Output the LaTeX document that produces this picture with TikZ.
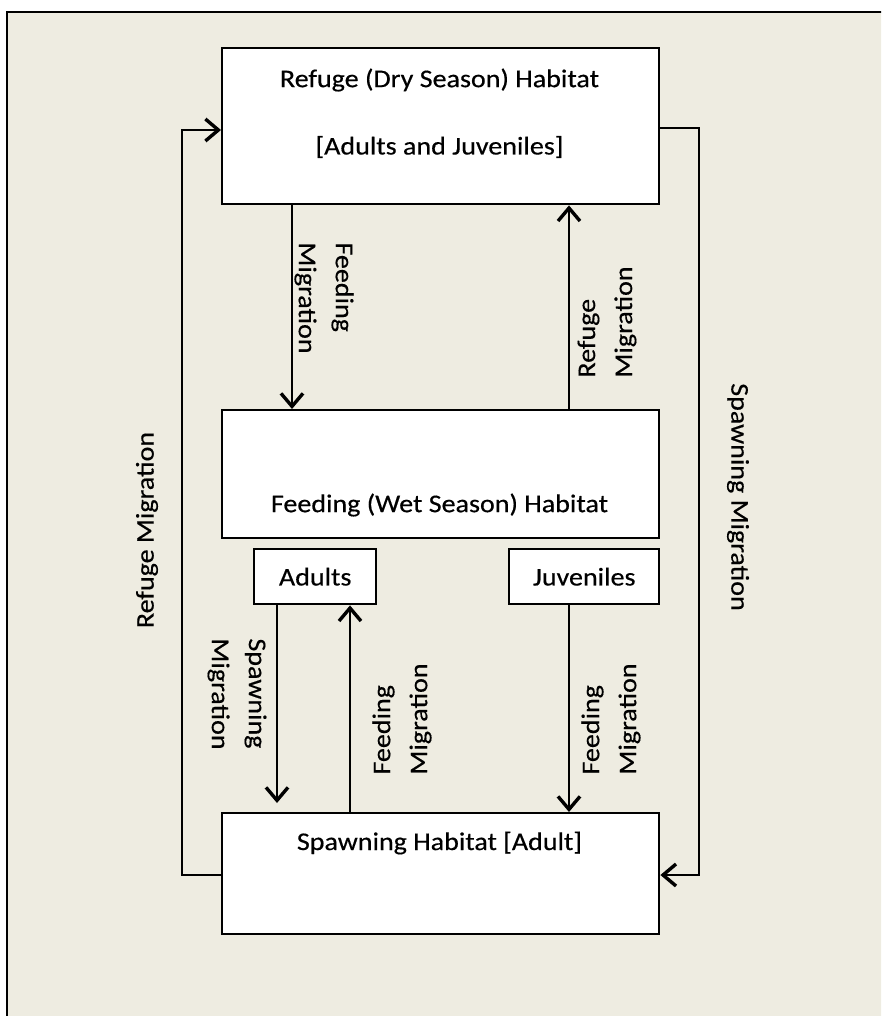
\documentclass[tikz,border=0pt]{standalone}
\usepackage{fontspec}
\setmainfont[FakeStretch=1.1, FakeBold=0.4]{Carlito}
\usetikzlibrary{arrows.meta}
\definecolor{bgtan}{HTML}{EEECE1}
\tikzset{
  habbox/.style={draw=black, line width=2.4pt, fill=white, inner sep=0pt, anchor=north west},
  txt/.style={inner sep=0pt, font=\fontsize{25.5}{37}\selectfont},
  lbl/.style={inner sep=0pt, font=\fontsize{25.5}{37}\selectfont, align=left},
  conn/.style={line width=2pt, -{Straight Barb[length=13pt, width=22pt, line width=3.4pt]}},
}
\begin{document}
\begin{tikzpicture}[x=1pt, y=-1pt]
\useasboundingbox (0,0) rectangle (881,1016);
\clip (0,0) rectangle (881,1016);
\fill[white] (0,0) rectangle (881,1016);
\draw[line width=2pt, fill=bgtan] (7,12) rectangle (900,1040);

% boxes
\node[habbox, minimum width=437pt, minimum height=156pt] (refuge) at (221,47) {};
\node[habbox, minimum width=437pt, minimum height=128pt] (feeding) at (221,409) {};
\node[habbox, minimum width=122pt, minimum height=55pt] (adults) at (253,548) {};
\node[habbox, minimum width=150pt, minimum height=55pt] (juv) at (508,548) {};
\node[habbox, minimum width=437pt, minimum height=121pt] (spawn) at (221,812) {};

% box texts
\node[txt] (t1) at (439.5,80) {Refuge (Dry Season) Habitat};
\node[txt] (t2) at (439.5,147) {[Adults and Juveniles]};
\node[txt] (t3) at (439.5,505) {Feeding (Wet Season) Habitat};
\node[txt] (t4) at (adults.center) {Adults};
\node[txt] (t5) at (juv.center) {Juveniles};
\node[txt] (t6) at (439.5,843) {Spawning Habitat [Adult]};

% coordinates
\coordinate (aTip) at (277,803);
\coordinate (lb) at (182,875);
\coordinate (lt) at (182,130);
\coordinate (rt) at (699,128);
\coordinate (rb) at (699,875);

% vertical connectors
\draw[conn] (refuge.south -| 292,0) -- (feeding.north -| 292,0);
\draw[conn] (feeding.north -| 569,0) -- (refuge.south -| 569,0);
\draw[conn] (adults.south -| aTip) -- (aTip);
\draw[conn] (spawn.north -| 350,0) -- (adults.south -| 350,0);
\draw[conn] (juv.south -| 569,0) -- (spawn.north -| 569,0);

% loops
\draw[conn] (spawn.west |- lb) -- (lb) -- (lt) -- (refuge.west |- lt);
\draw[conn] (refuge.east |- rt) -- (rt) -- (rb) -- (spawn.east |- rb);

% labels
\node[lbl, rotate=-90] (l1) at (324,298) {Feeding\\Migration};
\node[lbl, rotate=90] (l2) at (607,322) {Refuge\\Migration};
\node[lbl, rotate=90] (l3) at (147,530) {Refuge Migration};
\node[lbl, rotate=-90] (l4) at (738,497) {Spawning Migration};
\node[lbl, rotate=-90] (l5) at (237,694) {Spawning\\Migration};
\node[lbl, rotate=90] (l6) at (402,719) {Feeding\\Migration};
\node[lbl, rotate=90] (l7) at (611,719) {Feeding\\Migration};
\end{tikzpicture}
\end{document}
